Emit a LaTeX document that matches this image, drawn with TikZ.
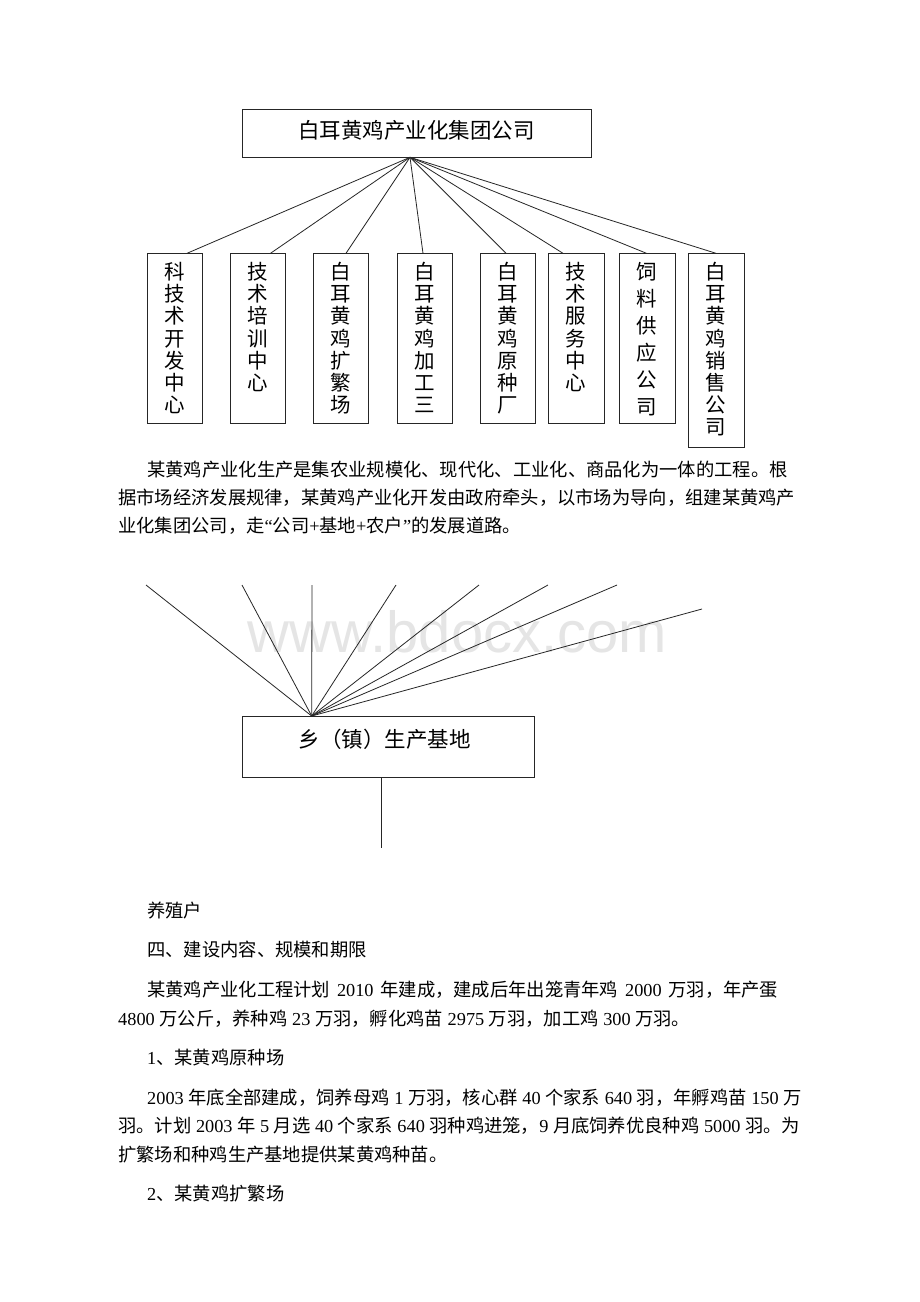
\documentclass[tikz,border=0pt]{standalone}
\usepackage{fontspec}
\setmainfont{Liberation Serif}
\newfontfamily\cjk{Noto Sans CJK SC}
\newfontfamily\wmfont{Liberation Sans}
\usetikzlibrary{calc}
\newcommand\dg[1]{\hspace{4.6pt}{\rmfamily #1}\hspace{4.6pt}}
\newcommand\dgw[1]{\hspace{6.8pt}{\rmfamily #1}\hspace{6.8pt}}
\newcommand\dgl[1]{{\rmfamily #1}\hspace{4.6pt}}
\newcommand\vtext[3]{\foreach \c [count=\i from 0] in {#3} \node[vch] (#1c\i) at ($(#1.north)+(0,{26.2+\i*#2})$) {\c};}
\begin{document}
\begin{tikzpicture}[x=1pt,y=-1pt,
  box/.style={draw=black!85, line width=0.9pt, inner sep=0pt},
  smallbox/.style={box, anchor=north, minimum width=55pt, minimum height=169.4pt},
  conn/.style={draw=black!85, line width=0.8pt},
  bigtxt/.style={inner sep=0pt, font=\cjk\fontsize{21.5}{21.5}\selectfont},
  vch/.style={inner sep=0pt, anchor=base, font=\cjk\fontsize{20.5}{20.5}\selectfont},
  body/.style={inner sep=0pt, anchor=base west, font=\cjk\fontsize{18.3}{18.3}\selectfont},
]
\useasboundingbox[fill=white] (0,0) rectangle (920,1302);

% ---------- watermark ----------
\node[font=\wmfont\fontsize{58}{58}\selectfont, text=black!10, anchor=base, inner sep=0pt] (wm) at (457.5,652) {www.bdocx.com};

% ---------- first chart ----------
\node[box, minimum width=349pt, minimum height=48pt] (top) at (416.5,133.3) {};
\node[bigtxt] (toptxt) at (416.5,130) {白耳黄鸡产业化集团公司};
\coordinate (apex) at (410,157.3);

\node[smallbox] (b1) at (174.5,253.3) {};
\node[smallbox] (b2) at (257.5,253.3) {};
\node[smallbox] (b3) at (340.5,253.3) {};
\node[smallbox] (b4) at (424.5,253.3) {};
\node[smallbox] (b5) at (507.5,253.3) {};
\node[smallbox, minimum width=56pt] (b6) at (576,253.3) {};
\node[smallbox, minimum width=56pt] (b7) at (647,253.3) {};
\node[smallbox, minimum width=56pt, minimum height=193.4pt] (b8) at (716,253.3) {};

\coordinate (e1) at ($(b1.north)+(12.5,0)$);
\coordinate (e2) at ($(b2.north)+(13,0)$);
\coordinate (e3) at ($(b3.north)+(5.5,0)$);
\coordinate (e4) at ($(b4.north)+(-1.5,0)$);
\coordinate (e5) at ($(b5.north)+(-1.5,0)$);
\coordinate (e6) at ($(b6.north)+(-13,0)$);
\coordinate (e7) at ($(b7.north)+(-0.5,0)$);
\coordinate (e8) at ($(b8.north)+(0,0)$);
\foreach \k in {1,...,8} \draw[conn] (apex) -- (e\k);

\vtext{b1}{22.2}{科,技,术,开,发,中,心}
\vtext{b2}{22.2}{技,术,培,训,中,心}
\vtext{b3}{22.2}{白,耳,黄,鸡,扩,繁,场}
\vtext{b4}{22.2}{白,耳,黄,鸡,加,工,三}
\vtext{b5}{22.2}{白,耳,黄,鸡,原,种,厂}
\vtext{b6}{22.2}{技,术,服,务,中,心}
\vtext{b7}{27}{饲,料,供,应,公,司}
\vtext{b8}{22.2}{白,耳,黄,鸡,销,售,公,司}

% ---------- paragraph 1 ----------
\node[body] (p1a) at (147,476) {某黄鸡产业化生产是集农业规模化、现代化、工业化、商品化为一体的工程。根};
\node[body] (p1b) at (118,504) {据市场经济发展规律，某黄鸡产业化开发由政府牵头，以市场为导向，组建某黄鸡产};
\node[body] (p1c) at (118,532) {业化集团公司，走{\rmfamily “}公司{\rmfamily +}基地{\rmfamily +}农户{\rmfamily ”}的发展道路。};

% ---------- second chart ----------
\node[box, minimum width=291.7pt, minimum height=61.3pt] (base) at (388.2,746.7) {};
\node[bigtxt] (basetxt) at (384.6,739) {乡（镇）生产基地};
\coordinate (apex2) at (311.7,716);
\coordinate (f1) at (146,585);
\coordinate (f2) at (242,585);
\coordinate (f3) at (312,585);
\coordinate (f4) at (396,585);
\coordinate (f5) at (479,585);
\coordinate (f6) at (548,585);
\coordinate (f7) at (617,585);
\coordinate (f8) at (702,609);
\foreach \k in {1,...,8} \draw[conn] (apex2) -- (f\k);
\coordinate (stemend) at (381,848.3);
\draw[conn] (stemend |- base.south) -- (stemend);

% ---------- lower text ----------
\node[body] (t1) at (147,917) {养殖户};
\node[body] (t2) at (147,956) {四、建设内容、规模和期限};
\node[body] (p3a) at (147,996) {某黄鸡产业化工程计划\dgw{2010}年建成，建成后年出笼青年鸡\dgw{2000}万羽，年产蛋};
\node[body] (p3b) at (118,1025) {\dgl{4800}万公斤，养种鸡\dg{23}万羽，孵化鸡苗\dg{2975}万羽，加工鸡\dg{300}万羽。};
\node[body] (t3) at (147,1064) {{\rmfamily 1}、某黄鸡原种场};
\node[body] (p4a) at (147,1104) {\dgl{2003}年底全部建成，饲养母鸡\dg{1}万羽，核心群\dg{40}个家系\dg{640}羽，年孵鸡苗\dg{150}万};
\node[body] (p4b) at (118,1132.5) {羽。计划\dg{2003}年\dg{5}月选\dg{40}个家系\dg{640}羽种鸡进笼，\dgl{9}月底饲养优良种鸡\dg{5000}羽。为};
\node[body] (p4c) at (118,1161) {扩繁场和种鸡生产基地提供某黄鸡种苗。};
\node[body] (t4) at (147,1200) {{\rmfamily 2}、某黄鸡扩繁场};
\end{tikzpicture}
\end{document}
